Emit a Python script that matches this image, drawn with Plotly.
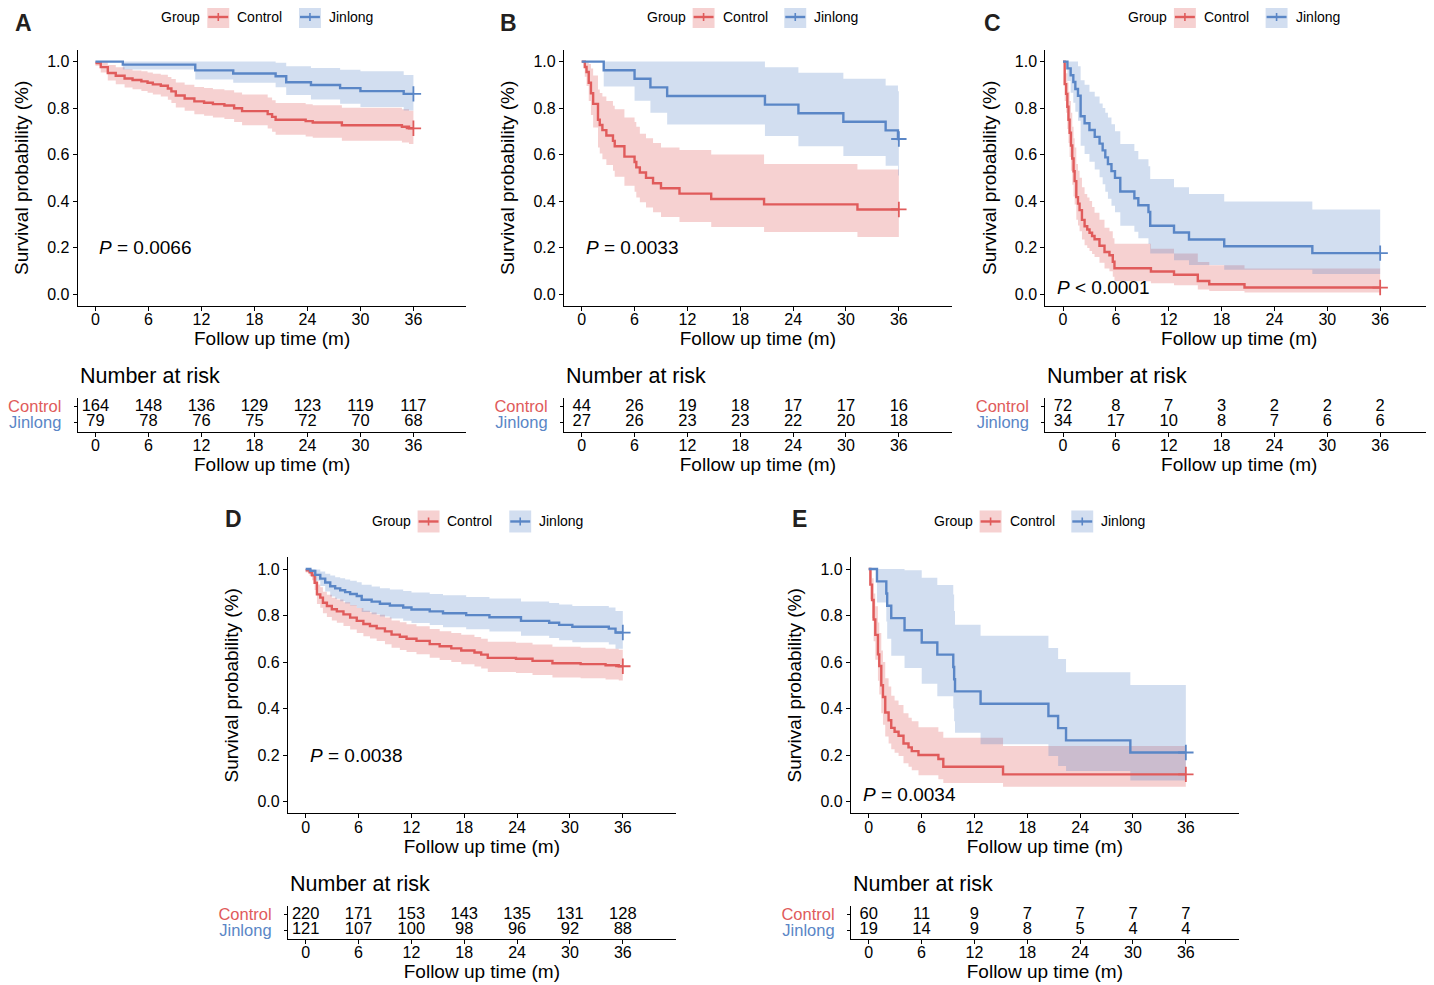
import plotly.graph_objects as go

W, H = 1434, 985
OX, OY = 8, 8  # page body margin the figure sits inside
FONT = "Liberation Sans, Arial, Helvetica, sans-serif"
RED = "#E05B5B"
BLUE = "#5A86C6"
RED_FILL = "rgba(224,91,91,0.28)"
BLUE_FILL = "rgba(90,134,198,0.27)"

groups = ["Control", "Jinlong"]
time_ticks = [0, 6, 12, 18, 24, 30, 36]
prob_ticks = [0.0, 0.2, 0.4, 0.6, 0.8, 1.0]

# ---------------- panel A ----------------
a_ctrl_t = [0, 0.6, 1.4, 2.3, 3.3, 4.2, 5.2, 5.9, 6.5, 7.4, 8.2, 8.6, 9.1, 10.1, 11.2, 12.3, 13.3,
            14.6, 15.7, 16.6, 19.5, 20.0, 20.4, 23.8, 24.6, 27.9, 34.7, 35.5, 36]
a_ctrl_s = [0.994, 0.976, 0.951, 0.939, 0.927, 0.921, 0.915, 0.909, 0.902, 0.896, 0.884, 0.872, 0.854,
            0.841, 0.829, 0.823, 0.817, 0.811, 0.799, 0.787, 0.774, 0.762, 0.75, 0.744, 0.738, 0.726,
            0.72, 0.713, 0.713]
a_ctrl_lo = [0.982, 0.953, 0.919, 0.903, 0.888, 0.881, 0.873, 0.866, 0.858, 0.85, 0.836, 0.822, 0.802,
             0.788, 0.774, 0.767, 0.76, 0.753, 0.74, 0.726, 0.712, 0.698, 0.685, 0.678, 0.672, 0.659,
             0.652, 0.645, 0.645]
a_ctrl_hi = [1.0, 0.999, 0.985, 0.976, 0.967, 0.962, 0.958, 0.953, 0.948, 0.943, 0.934, 0.925, 0.91,
             0.9, 0.891, 0.886, 0.881, 0.877, 0.867, 0.858, 0.846, 0.834, 0.822, 0.817, 0.812, 0.801,
             0.795, 0.789, 0.789]
a_jin_t = [0, 3.1, 11.3, 15.6, 20.4, 21.6, 24.4, 27.7, 30.0, 34.9, 36]
a_jin_s = [1.0, 0.987, 0.962, 0.949, 0.937, 0.911, 0.899, 0.886, 0.873, 0.861, 0.861]
a_jin_lo = [1.0, 0.966, 0.923, 0.909, 0.89, 0.856, 0.837, 0.819, 0.805, 0.79, 0.79]
a_jin_hi = [1.0, 1.0, 1.0, 1.0, 0.995, 0.98, 0.972, 0.965, 0.958, 0.942, 0.942]
a_risk_ctrl = [164, 148, 136, 129, 123, 119, 117]
a_risk_jin = [79, 78, 76, 75, 72, 70, 68]
a_pval = "<i>P</i> = 0.0066"

# ---------------- panel B ----------------
b_ctrl_t = [0, 0.35, 0.55, 0.8, 1.05, 1.3, 1.85, 2.05, 2.35, 2.8, 3.55, 3.75, 4.85, 6.0, 6.2, 6.6,
            7.3, 8.1, 9.0, 11.1, 14.7, 20.7, 31.3, 36]
b_ctrl_s = [1.0, 0.977, 0.955, 0.909, 0.864, 0.818, 0.75, 0.727, 0.705, 0.682, 0.659, 0.636, 0.591,
            0.568, 0.545, 0.523, 0.5, 0.477, 0.455, 0.432, 0.409, 0.386, 0.364, 0.364]
b_ctrl_lo = [1.0, 0.935, 0.895, 0.83, 0.77, 0.716, 0.63, 0.605, 0.58, 0.555, 0.53, 0.505, 0.466, 0.44,
             0.415, 0.395, 0.372, 0.352, 0.331, 0.31, 0.288, 0.267, 0.245, 0.245]
b_ctrl_hi = [1.0, 1.0, 1.0, 0.99, 0.97, 0.94, 0.88, 0.865, 0.85, 0.83, 0.81, 0.795, 0.76, 0.74, 0.72,
             0.69, 0.67, 0.65, 0.63, 0.62, 0.6, 0.56, 0.536, 0.536]
b_jin_t = [0, 2.5, 6.0, 7.8, 9.7, 20.8, 24.6, 29.7, 34.5, 35.9, 36]
b_jin_s = [1.0, 0.963, 0.926, 0.889, 0.852, 0.815, 0.778, 0.741, 0.704, 0.667, 0.667]
b_jin_lo = [1.0, 0.893, 0.832, 0.78, 0.729, 0.68, 0.636, 0.594, 0.552, 0.51, 0.51]
b_jin_hi = [1.0, 1.0, 1.0, 1.0, 1.0, 0.976, 0.952, 0.926, 0.897, 0.872, 0.872]
b_risk_ctrl = [44, 26, 19, 18, 17, 17, 16]
b_risk_jin = [27, 26, 23, 23, 22, 20, 18]
b_pval = "<i>P</i> = 0.0033"

# ---------------- panel C ----------------
c_ctrl_t = [0, 0.19, 0.35, 0.49, 0.62, 0.75, 0.9, 1.05, 1.2, 1.32, 1.51, 1.7, 1.88, 2.15, 2.45, 2.75,
            3.01, 3.3, 3.58, 4.14, 4.71, 5.27, 5.65, 5.84, 9.98, 12.6, 15.3, 16.6, 20.6, 36]
c_ctrl_s = [1.0, 0.903, 0.861, 0.806, 0.75, 0.694, 0.639, 0.583, 0.528, 0.486, 0.417, 0.389, 0.361,
            0.319, 0.292, 0.278, 0.264, 0.25, 0.236, 0.208, 0.181, 0.167, 0.139, 0.111, 0.097, 0.083,
            0.056, 0.042, 0.028, 0.028]
c_ctrl_lo = [1.0, 0.83, 0.78, 0.71, 0.65, 0.59, 0.53, 0.47, 0.42, 0.385, 0.32, 0.295, 0.27, 0.235, 0.21,
             0.198, 0.185, 0.172, 0.16, 0.135, 0.11, 0.098, 0.075, 0.055, 0.047, 0.038, 0.02, 0.013,
             0.007, 0.007]
c_ctrl_hi = [1.0, 0.975, 0.95, 0.91, 0.87, 0.83, 0.78, 0.72, 0.67, 0.63, 0.56, 0.53, 0.5, 0.46, 0.43,
             0.415, 0.4, 0.375, 0.35, 0.32, 0.285, 0.27, 0.24, 0.217, 0.195, 0.174, 0.138, 0.124, 0.11,
             0.11]
c_jin_t = [0, 0.5, 0.87, 1.17, 1.4, 1.7, 2.0, 2.45, 3.0, 3.6, 4.15, 4.5, 4.8, 5.1, 5.5, 5.9, 6.5, 8.1,
           8.55, 9.7, 9.9, 12.6, 14.3, 18.3, 28.3, 36]
c_jin_s = [1.0, 0.971, 0.941, 0.912, 0.882, 0.853, 0.765, 0.735, 0.706, 0.676, 0.647, 0.618, 0.588,
           0.559, 0.529, 0.5, 0.441, 0.412, 0.382, 0.353, 0.294, 0.265, 0.235, 0.206, 0.176, 0.176]
c_jin_lo = [1.0, 0.917, 0.866, 0.823, 0.784, 0.746, 0.638, 0.603, 0.569, 0.536, 0.503, 0.472, 0.44,
            0.41, 0.38, 0.352, 0.294, 0.268, 0.24, 0.215, 0.174, 0.145, 0.125, 0.105, 0.086, 0.086]
c_jin_hi = [1.0, 1.0, 1.0, 1.0, 1.0, 0.98, 0.92, 0.9, 0.87, 0.85, 0.82, 0.8, 0.78, 0.76, 0.73, 0.7,
            0.645, 0.615, 0.58, 0.55, 0.495, 0.46, 0.43, 0.398, 0.364, 0.364]
c_risk_ctrl = [72, 8, 7, 3, 2, 2, 2]
c_risk_jin = [34, 17, 10, 8, 7, 6, 6]
c_pval = "<i>P</i> < 0.0001"

# ---------------- panel D ----------------
d_ctrl_t = [0, 0.45, 0.72, 1.02, 1.28, 1.66, 1.96, 2.41, 2.97, 3.54, 4.29, 5.05, 5.8, 6.55, 7.3, 8.06,
            9.0, 9.75, 10.69, 11.45, 12.58, 14.08, 15.21, 16.53, 17.66, 19.16, 19.92, 20.67, 23.87,
            25.75, 28.01, 31.21, 34.04, 35.54, 36]
d_ctrl_s = [0.995, 0.986, 0.973, 0.941, 0.891, 0.877, 0.855, 0.841, 0.827, 0.818, 0.805, 0.791, 0.777,
            0.764, 0.755, 0.745, 0.732, 0.718, 0.709, 0.7, 0.691, 0.677, 0.668, 0.659, 0.65, 0.641,
            0.632, 0.618, 0.614, 0.605, 0.595, 0.591, 0.586, 0.582, 0.582]
d_ctrl_lo = [0.985, 0.97, 0.952, 0.91, 0.85, 0.834, 0.81, 0.794, 0.779, 0.769, 0.755, 0.74, 0.725,
             0.711, 0.701, 0.691, 0.677, 0.662, 0.652, 0.643, 0.634, 0.619, 0.609, 0.6, 0.591, 0.581,
             0.572, 0.557, 0.553, 0.544, 0.534, 0.53, 0.525, 0.521, 0.521]
d_ctrl_hi = [1.0, 1.0, 0.994, 0.973, 0.934, 0.922, 0.902, 0.89, 0.877, 0.869, 0.857, 0.845, 0.833,
             0.821, 0.813, 0.804, 0.792, 0.779, 0.771, 0.763, 0.754, 0.742, 0.733, 0.725, 0.717, 0.708,
             0.7, 0.687, 0.683, 0.675, 0.666, 0.662, 0.657, 0.653, 0.653]
d_jin_t = [0, 0.53, 1.09, 1.66, 2.22, 2.79, 3.35, 3.92, 4.48, 5.05, 5.8, 6.36, 7.49, 8.43, 9.56, 11.07,
           12.01, 14.08, 15.59, 18.22, 20.86, 24.44, 27.64, 28.77, 30.27, 34.41, 35.17, 36]
d_jin_s = [1.0, 0.992, 0.975, 0.959, 0.942, 0.926, 0.917, 0.909, 0.901, 0.893, 0.884, 0.868, 0.86,
           0.851, 0.843, 0.835, 0.826, 0.818, 0.81, 0.802, 0.793, 0.777, 0.769, 0.76, 0.752, 0.744,
           0.727, 0.727]
d_jin_lo = [1.0, 0.977, 0.95, 0.927, 0.903, 0.882, 0.872, 0.862, 0.852, 0.843, 0.833, 0.815, 0.806,
            0.796, 0.787, 0.778, 0.768, 0.759, 0.75, 0.741, 0.731, 0.713, 0.704, 0.694, 0.685, 0.676,
            0.657, 0.657]
d_jin_hi = [1.0, 1.0, 0.998, 0.99, 0.98, 0.972, 0.965, 0.96, 0.955, 0.95, 0.943, 0.932, 0.925, 0.918,
            0.912, 0.906, 0.899, 0.893, 0.887, 0.88, 0.873, 0.861, 0.854, 0.848, 0.841, 0.835, 0.82,
            0.82]
d_risk_ctrl = [220, 171, 153, 143, 135, 131, 128]
d_risk_jin = [121, 107, 100, 98, 96, 92, 88]
d_pval = "<i>P</i> = 0.0038"

# ---------------- panel E ----------------
e_ctrl_t = [0, 0.19, 0.38, 0.56, 0.75, 1.05, 1.2, 1.43, 1.62, 1.88, 2.26, 2.56, 2.94, 3.39, 3.95, 4.52,
            4.89, 5.65, 7.91, 8.47, 15.25, 36]
e_ctrl_s = [1.0, 0.933, 0.867, 0.783, 0.717, 0.633, 0.583, 0.5, 0.45, 0.383, 0.35, 0.317, 0.3, 0.283,
            0.25, 0.233, 0.217, 0.2, 0.183, 0.15, 0.117, 0.117]
e_ctrl_lo = [1.0, 0.87, 0.79, 0.69, 0.61, 0.52, 0.46, 0.38, 0.33, 0.28, 0.25, 0.225, 0.21, 0.196, 0.165,
             0.15, 0.135, 0.113, 0.096, 0.08, 0.064, 0.064]
e_ctrl_hi = [1.0, 1.0, 0.96, 0.895, 0.84, 0.77, 0.725, 0.65, 0.6, 0.53, 0.495, 0.455, 0.435, 0.415,
             0.38, 0.36, 0.345, 0.32, 0.3, 0.274, 0.239, 0.239]
e_jin_t = [0, 0.94, 2.0, 2.1, 2.56, 4.07, 6.02, 7.79, 9.6, 9.7, 9.8, 12.7, 20.4, 21.5, 22.4, 29.7, 36]
e_jin_s = [1.0, 0.947, 0.895, 0.842, 0.789, 0.737, 0.684, 0.632, 0.579, 0.526, 0.474, 0.421, 0.368,
           0.316, 0.263, 0.211, 0.211]
e_jin_lo = [1.0, 0.856, 0.774, 0.7, 0.627, 0.574, 0.507, 0.453, 0.4, 0.345, 0.296, 0.246, 0.196, 0.153,
            0.131, 0.091, 0.091]
e_jin_hi = [1.0, 1.0, 1.0, 1.0, 1.0, 0.995, 0.963, 0.931, 0.891, 0.82, 0.76, 0.713, 0.66, 0.613,
            0.556, 0.501, 0.501]
e_risk_ctrl = [60, 11, 9, 7, 7, 7, 7]
e_risk_jin = [19, 14, 9, 8, 5, 4, 4]
e_pval = "<i>P</i> = 0.0034"

panels = [
    ("A", (a_ctrl_t, a_ctrl_s, a_ctrl_lo, a_ctrl_hi), (a_jin_t, a_jin_s, a_jin_lo, a_jin_hi),
     a_risk_ctrl, a_risk_jin, a_pval),
    ("B", (b_ctrl_t, b_ctrl_s, b_ctrl_lo, b_ctrl_hi), (b_jin_t, b_jin_s, b_jin_lo, b_jin_hi),
     b_risk_ctrl, b_risk_jin, b_pval),
    ("C", (c_ctrl_t, c_ctrl_s, c_ctrl_lo, c_ctrl_hi), (c_jin_t, c_jin_s, c_jin_lo, c_jin_hi),
     c_risk_ctrl, c_risk_jin, c_pval),
    ("D", (d_ctrl_t, d_ctrl_s, d_ctrl_lo, d_ctrl_hi), (d_jin_t, d_jin_s, d_jin_lo, d_jin_hi),
     d_risk_ctrl, d_risk_jin, d_pval),
    ("E", (e_ctrl_t, e_ctrl_s, e_ctrl_lo, e_ctrl_hi), (e_jin_t, e_jin_s, e_jin_lo, e_jin_hi),
     e_risk_ctrl, e_risk_jin, e_pval),
]

# layout boxes in page pixels: left, right, plot top, plot bottom, table top, table bottom
boxes = {
    "A": (73, 463, 49, 305, 397, 431),
    "B": (561, 950, 49, 305, 397, 431),
    "C": (1044, 1433, 49, 305, 397, 431),
    "D": (284, 673, 557, 813, 906, 939),
    "E": (849, 1238, 557, 813, 906, 939),
}
# panel letter (left, middle y), legend "Group" (left, middle y), p-value anchor in data units
letter_pos = {"A": (9, 22), "B": (496, 22), "C": (981, 22), "D": (220, 519), "E": (789, 519)}
legend_pos = {"A": (157, 16), "B": (644, 16), "C": (1127, 16), "D": (368, 521), "E": (932, 521)}
pval_pos = {"A": (0.2, 0.2), "B": (0.25, 0.2), "C": (-0.9, 0.03), "D": (0.3, 0.2),
            "E": (-0.85, 0.03)}
# legend key offsets from the "Group" text (px): swatch start, label start
key_offsets = [(46, 76), (138, 168)]


def fx(p):
    return (p - OX) / W


def fy(p):
    return 1 - (p - OY) / H


axis_common = dict(showline=True, linecolor="black", linewidth=1.3, ticks="outside", ticklen=4,
                   tickwidth=1.2, tickcolor="black", showgrid=False, zeroline=False,
                   tickfont=dict(family=FONT, size=16, color="black"))
title_font = dict(family=FONT, size=19, color="black")

fig = go.Figure()
layout = {}
annotations = []
shapes = []
colors = [RED, BLUE]
fills = [RED_FILL, BLUE_FILL]

for i, (key, ctrl, jin, risk_c, risk_j, pval) in enumerate(panels, start=1):
    left, right, ptop, pbot, ttop, tbot = boxes[key]
    sfx = "" if i == 1 else str(i)
    tsfx = str(i + 5)
    xa, ya = "x" + sfx, "y" + sfx
    txa, tya = "x" + tsfx, "y" + tsfx

    # confidence bands
    for (t, s, lo, hi), fc in zip([ctrl, jin], fills):
        fig.add_trace(go.Scatter(x=t, y=lo, mode="lines", line=dict(width=0, shape="hv"),
                                 xaxis=xa, yaxis=ya, showlegend=False, hoverinfo="skip"))
        fig.add_trace(go.Scatter(x=t, y=hi, mode="lines", line=dict(width=0, shape="hv"),
                                 fill="tonexty", fillcolor=fc, xaxis=xa, yaxis=ya,
                                 showlegend=False, hoverinfo="skip"))
    # survival curves + censor marks
    for (t, s, lo, hi), col, name in zip([ctrl, jin], colors, groups):
        fig.add_trace(go.Scatter(x=t, y=s, mode="lines", line=dict(color=col, width=2.4, shape="hv"),
                                 xaxis=xa, yaxis=ya, showlegend=False, name=name))
        fig.add_trace(go.Scatter(x=[t[-1]], y=[s[-1]], mode="markers",
                                 marker=dict(symbol="cross-thin", size=11, color=col,
                                             line=dict(color=col, width=1.8)),
                                 xaxis=xa, yaxis=ya, showlegend=False, hoverinfo="skip"))
    # risk table
    for yv, vals in zip([2, 1], [risk_c, risk_j]):
        fig.add_trace(go.Scatter(x=time_ticks, y=[yv] * len(vals), mode="text",
                                 text=[str(v) for v in vals],
                                 textfont=dict(family=FONT, size=16.5, color="black"),
                                 xaxis=txa, yaxis=tya, showlegend=False, hoverinfo="skip"))

    layout["xaxis" + sfx] = dict(axis_common, domain=[fx(left), fx(right)], anchor=ya,
                                 range=[-2, 42], tickvals=time_ticks, ticklabelstandoff=-5,
                                 title=dict(text="Follow up time (m)", font=title_font, standoff=2))
    layout["yaxis" + sfx] = dict(axis_common, domain=[fy(pbot), fy(ptop)], anchor=xa,
                                 range=[-0.05, 1.05], tickvals=prob_ticks, tickformat=".1f",
                                 title=dict(text="Survival probability (%)", font=title_font,
                                            standoff=13))
    layout["xaxis" + tsfx] = dict(axis_common, domain=[fx(left), fx(right)], anchor=tya,
                                  range=[-2, 42], tickvals=time_ticks, ticklabelstandoff=-5,
                                  title=dict(text="Follow up time (m)", font=title_font, standoff=2))
    layout["yaxis" + tsfx] = dict(axis_common, domain=[fy(tbot), fy(ttop)], anchor=txa,
                                  range=[0.42, 2.56], tickvals=[1, 2], ticklen=3,
                                  ticklabelstandoff=9,
                                  tickfont=dict(family=FONT, size=16.5, color="black"),
                                  ticktext=['<span style="color:%s">Jinlong</span>' % BLUE,
                                            '<span style="color:%s">Control</span>' % RED])

    # legend row: "Group", then a key box with line and cross for each group
    gx, gy = legend_pos[key]
    annotations.append(dict(text="Group", x=fx(gx - 2), y=fy(gy), xref="paper", yref="paper",
                            xanchor="left", yanchor="middle", showarrow=False,
                            font=dict(family=FONT, size=14, color="black")))
    for (sw, lab), col, fc, name in zip(key_offsets, colors, fills, groups):
        x0, x1 = gx + sw, gx + sw + 22
        shapes.append(dict(type="rect", xref="paper", yref="paper", x0=fx(x0), x1=fx(x1),
                           y0=fy(gy - 11), y1=fy(gy + 11), fillcolor=fc, line=dict(width=0)))
        shapes.append(dict(type="line", xref="paper", yref="paper", x0=fx(x0 + 1), x1=fx(x1 - 1),
                           y0=fy(gy), y1=fy(gy), line=dict(color=col, width=2.4)))
        shapes.append(dict(type="line", xref="paper", yref="paper", x0=fx(x0 + 11), x1=fx(x0 + 11),
                           y0=fy(gy - 4), y1=fy(gy + 4), line=dict(color=col, width=1.6)))
        annotations.append(dict(text=name, x=fx(gx + lab - 2), y=fy(gy), xref="paper", yref="paper",
                                xanchor="left", yanchor="middle", showarrow=False,
                                font=dict(family=FONT, size=14, color="black")))

    cx, cy = letter_pos[key]
    annotations.append(dict(text="<b>%s</b>" % key, x=fx(cx), y=fy(cy), xref="paper", yref="paper",
                            xanchor="left", yanchor="middle", showarrow=False, borderpad=0,
                            font=dict(family=FONT, size=23, color="#231f20")))
    px_, py_ = pval_pos[key]
    annotations.append(dict(text=pval, x=px_, y=py_, xref=xa, yref=ya, xanchor="left",
                            yanchor="middle", showarrow=False,
                            font=dict(family=FONT, size=19, color="black")))
    annotations.append(dict(text="Number at risk", x=0, y=1, xref=txa + " domain",
                            yref=tya + " domain", xanchor="left", yanchor="bottom", yshift=8,
                            showarrow=False, font=dict(family=FONT, size=21.5, color="black")))

fig.update_layout(width=W, height=H, autosize=False, margin=dict(l=0, r=0, t=0, b=0),
                  paper_bgcolor="white", plot_bgcolor="white", font=dict(family=FONT),
                  showlegend=False, annotations=annotations, shapes=shapes, hovermode=False,
                  **layout)

fig.write_html("out.html")
